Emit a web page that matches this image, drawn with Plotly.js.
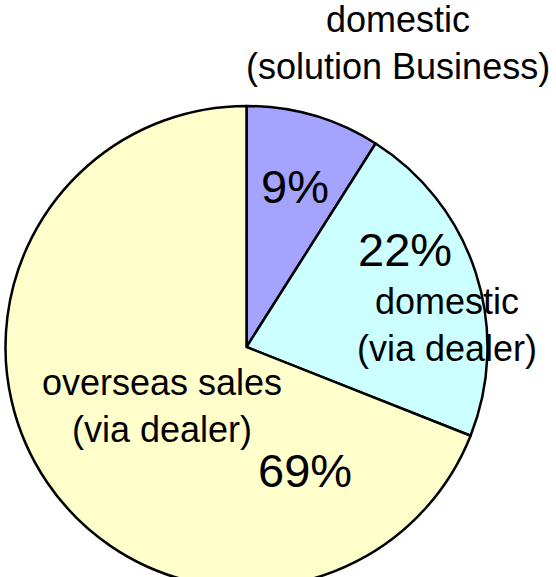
<!DOCTYPE html>
<html>
<head>
<meta charset="utf-8">
<script src="https://cdn.plot.ly/plotly-3.0.1.min.js"></script>
<style>html,body{margin:0;padding:0;overflow:hidden;background:#fff;}#chart{width:556px;height:620px;}</style>
</head>
<body>
<div id="chart"></div>
<script>
const categories = ["domestic (solution Business)", "domestic (via dealer)", "overseas sales (via dealer)"];
const values = [9, 22, 69];
const percentLabels = ["9%", "22%", "69%"];
const nameLabels = ["domestic<br>(solution Business)", "domestic<br>(via dealer)", "overseas sales<br>(via dealer)"];
const colors = ["#a4a4ff", "#ccffff", "#ffffcc"];

const H = 620, W = 556;
function px(x){return x/W;}
function py(y){return 1 - y/H;}
const font = "Liberation Sans, Arial, sans-serif";

// label positions (pixel centres)
const pctPos = [[295,186],[405,249],[305,470]];
const namePos = [[398,43],[447,325],[162,406]];

const annotations = [];
for (let i = 0; i < categories.length; i++) {
  annotations.push({text: percentLabels[i], x: px(pctPos[i][0]), y: py(pctPos[i][1]), xref:'paper', yref:'paper', xanchor:'center', yanchor:'middle', showarrow:false, font:{family:font, size:47, color:'#000'}});
  annotations.push({text: nameLabels[i], x: px(namePos[i][0]), y: py(namePos[i][1]), xref:'paper', yref:'paper', xanchor:'center', yanchor:'middle', showarrow:false, font:{family:font, size:36, color:'#000'}});
}

const cx = 246.5, cy = 347, r = 241;
Plotly.newPlot('chart', [{
  type: 'pie',
  labels: categories,
  values: values,
  sort: false,
  direction: 'clockwise',
  rotation: 0,
  textinfo: 'none',
  hoverinfo: 'none',
  marker: {colors: colors, line: {color: '#000', width: 2.5}},
  domain: {x: [px(cx - r), px(cx + r)], y: [py(cy + r), py(cy - r)]},
  showlegend: false
}], {
  width: W, height: H,
  margin: {l:0, r:0, t:0, b:0},
  paper_bgcolor: '#fff',
  showlegend: false,
  annotations: annotations
}, {staticPlot: true, displayModeBar: false});
</script>
</body>
</html>
